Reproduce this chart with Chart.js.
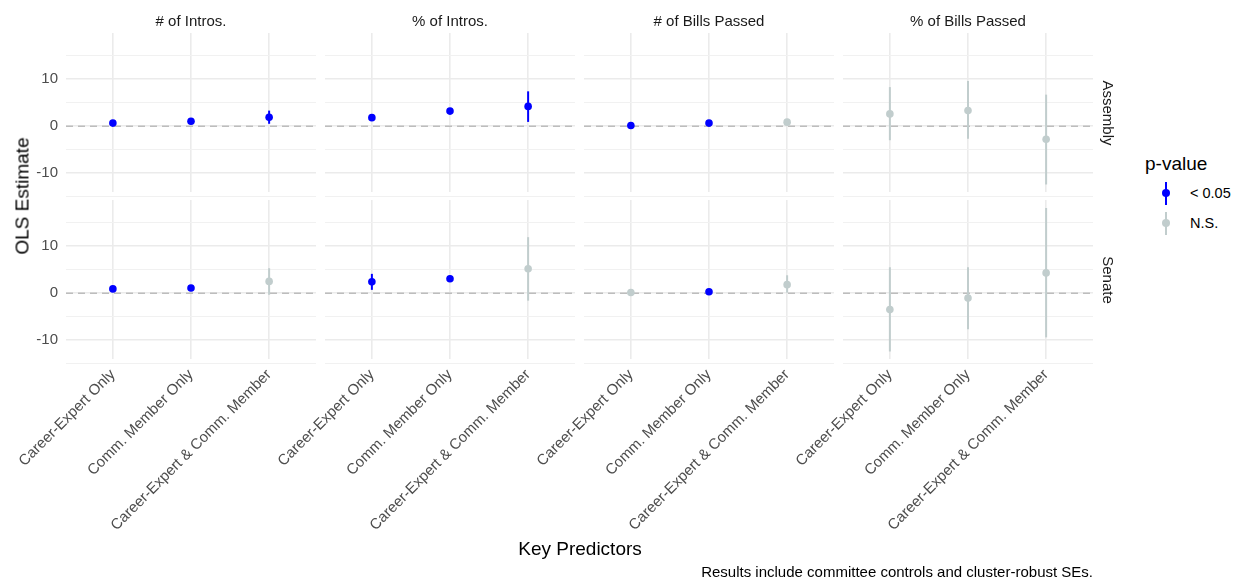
<!DOCTYPE html>
<html>
<head>
<meta charset="utf-8">
<script src="https://cdn.jsdelivr.net/npm/chart.js@4.4.1/dist/chart.umd.min.js"></script>
<style>
  body { margin: 0; background: #fff; }
  #page { position: relative; width: 1233px; height: 577px; overflow: hidden; background: #fff;
          font-family: 'Liberation Sans', Arial, Helvetica, sans-serif; }
  #page canvas { position: absolute; }
  .txt { position: absolute; white-space: nowrap; line-height: 1; }
  .key-line { position: absolute; width: 2px; height: 23px; }
  .key-dot { position: absolute; width: 8px; height: 8px; border-radius: 50%; }
</style>
</head>
<body>
<div id="page"></div>
<script>
(function(){
  // facets and categories
  var outcomes = ["# of Intros.", "% of Intros.", "# of Bills Passed", "% of Bills Passed"];
  var chambers = ["Assembly", "Senate"];
  var predictors = ["Career-Expert Only", "Comm. Member Only", "Career-Expert & Comm. Member"];
  var yGrid = [-15, -10, -5, 0, 5, 10, 15];
  var sigLabels = ["< 0.05", "N.S."];

  // estimates, 3 predictors per outcome, outcomes in order above
  var assemblyEst  = [0.65, 1.05, 1.9,   1.8, 3.2, 4.2,   0.15, 0.65, 0.85,   2.6, 3.3, -2.8];
  var assemblyLow  = [0.35, 0.75, 0.5,   1.3, 2.6, 0.9,  -0.1, 0.4, 0.2,    -3.0, -2.7, -12.4];
  var assemblyHigh = [0.95, 1.35, 3.3,   2.3, 3.8, 7.4,   0.4, 0.9, 1.5,     8.3, 9.6, 6.7];
  var assemblySig  = [1, 1, 1,   1, 1, 1,   1, 1, 0,   0, 0, 0];

  var senateEst  = [0.9, 1.1, 2.5,    2.4, 3.05, 5.2,   0.15, 0.3, 1.8,   -3.5, -1.05, 4.3];
  var senateLow  = [0.6, 0.8, -0.35,  0.7, 2.4, -1.6,  -0.2, 0.1, 0.1,   -12.4, -7.7, -9.4];
  var senateHigh = [1.2, 1.4, 5.3,    4.1, 3.7, 11.9,   0.5, 0.5, 3.8,     5.5, 5.5, 18.1];
  var senateSig  = [1, 1, 0,   1, 1, 0,   0, 1, 0,   0, 0, 0];

  var BLUE = "#0000ff", GREY = "#c1cdcd";
  var FONT = "'Liberation Sans', Arial, Helvetica, sans-serif";

  var est = [assemblyEst, senateEst], low = [assemblyLow, senateLow],
      high = [assemblyHigh, senateHigh], sig = [assemblySig, senateSig];

  // panel geometry
  var PW = 250, PH = 159;
  var lefts = [66, 325, 584, 843], tops = [33, 200];
  var YW = 40, XH = 185, PL = 160, PR = 15, PT = 25, PB = 25;

  var page = document.getElementById("page");

  var zeroLine = {
    id: "zeroLine",
    beforeDatasetsDraw: function(chart){
      var a = chart.chartArea, c = chart.ctx;
      var y = chart.scales.y.getPixelForValue(0);
      c.save();
      c.strokeStyle = "#bdbdbd";
      c.lineWidth = 1.5;
      c.setLineDash([7, 5]);
      c.beginPath();
      c.moveTo(a.left, y);
      c.lineTo(a.right, y);
      c.stroke();
      c.restore();
    }
  };

  function panel(row, col){
    var cv = document.createElement("canvas");
    var yw = col === 0 ? YW : 0;
    var xh = row === 1 ? XH : 0;
    var w = PL + yw + PW + PR, h = PT + PH + xh + PB;
    cv.width = w; cv.height = h;
    cv.style.left = (lefts[col] - PL - yw) + "px";
    cv.style.top = (tops[row] - PT) + "px";
    page.appendChild(cv);

    var pts = [], colors = [], bars = [];
    for (var i = 0; i < predictors.length; i++) {
      var k = col * 3 + i;
      var color = sig[row][k] ? BLUE : GREY;
      pts.push({ x: i, y: est[row][k] });
      colors.push(color);
      bars.push({
        data: [{ x: i, y: low[row][k] }, { x: i, y: high[row][k] }],
        borderColor: color, borderWidth: 2, pointRadius: 0, order: 1, fill: false
      });
    }
    var datasets = [{
      data: pts, showLine: false, pointRadius: 3.8, pointBorderWidth: 0,
      pointBackgroundColor: colors, pointBorderColor: colors, order: 0
    }].concat(bars);

    return new Chart(cv.getContext("2d"), {
      type: "line",
      data: { datasets: datasets },
      options: {
        responsive: false,
        animation: false,
        devicePixelRatio: 1,
        events: [],
        layout: { padding: { left: PL, right: PR, top: PT, bottom: PB } },
        plugins: { legend: { display: false }, tooltip: { enabled: false } },
        scales: {
          x: {
            type: "linear", min: -0.6, max: 2.6,
            afterBuildTicks: function(s){ s.ticks = [0, 1, 2].map(function(v){ return { value: v }; }); },
            afterFit: function(s){ s.height = xh; },
            border: { display: false },
            grid: { color: "#ebebeb", lineWidth: 1.6, drawTicks: false },
            ticks: {
              display: row === 1, autoSkip: false, minRotation: 45, maxRotation: 45, padding: 7,
              color: "#4d4d4d", font: { family: FONT, size: 15 },
              callback: function(v){ return predictors[v]; }
            }
          },
          y: {
            min: -14, max: 19.8,
            afterBuildTicks: function(s){ s.ticks = yGrid.map(function(v){ return { value: v }; }); },
            afterFit: function(s){ s.width = yw; },
            border: { display: false },
            grid: {
              drawTicks: false,
              color: function(c){ return c.tick.value % 10 === 0 ? "#ebebeb" : "#f1f1f1"; },
              lineWidth: function(c){ return c.tick.value % 10 === 0 ? 1.6 : 1.1; }
            },
            ticks: {
              display: col === 0, autoSkip: false, padding: 8,
              color: "#4d4d4d", font: { family: FONT, size: 15 },
              callback: function(v){ return v % 10 === 0 ? String(v) : ""; }
            }
          }
        }
      },
      plugins: [zeroLine]
    });
  }

  for (var r = 0; r < chambers.length; r++)
    for (var c = 0; c < outcomes.length; c++) panel(r, c);

  function text(str, x, y, opts){
    var d = document.createElement("div");
    d.className = "txt";
    d.textContent = str;
    d.style.fontSize = (opts.size || 15) + "px";
    d.style.color = opts.color || "#000";
    d.style.left = x + "px";
    d.style.top = y + "px";
    var tr = opts.anchor === "right" ? "translate(-100%,-50%)" :
             opts.anchor === "left" ? "translate(0,-50%)" : "translate(-50%,-50%)";
    if (opts.rot) tr += " rotate(" + opts.rot + "deg)";
    d.style.transform = tr;
    page.appendChild(d);
    return d;
  }

  // strips
  outcomes.forEach(function(o, i){ text(o, lefts[i] + PW / 2, 20, { color: "#1a1a1a" }); });
  chambers.forEach(function(ch, i){ text(ch, 1108, tops[i] + PH / 2, { color: "#1a1a1a", rot: 90 }); });

  // axis titles and caption
  text("OLS Estimate", 22, 196, { size: 19, rot: -90 });
  text("Key Predictors", 580, 548, { size: 19 });
  text("Results include committee controls and cluster-robust SEs.", 1093, 571, { anchor: "right" });

  // legend
  text("p-value", 1145, 163, { size: 19, anchor: "left" });
  [BLUE, GREY].forEach(function(col, i){
    var cy = 193 + i * 30;
    var ln = document.createElement("div");
    ln.className = "key-line";
    ln.style.background = col;
    ln.style.left = "1165px";
    ln.style.top = (cy - 11.5) + "px";
    page.appendChild(ln);
    var dot = document.createElement("div");
    dot.className = "key-dot";
    dot.style.background = col;
    dot.style.left = "1162px";
    dot.style.top = (cy - 4) + "px";
    page.appendChild(dot);
    text(sigLabels[i], 1190, cy, { size: 14.5, anchor: "left" });
  });
})();
</script>
</body>
</html>
